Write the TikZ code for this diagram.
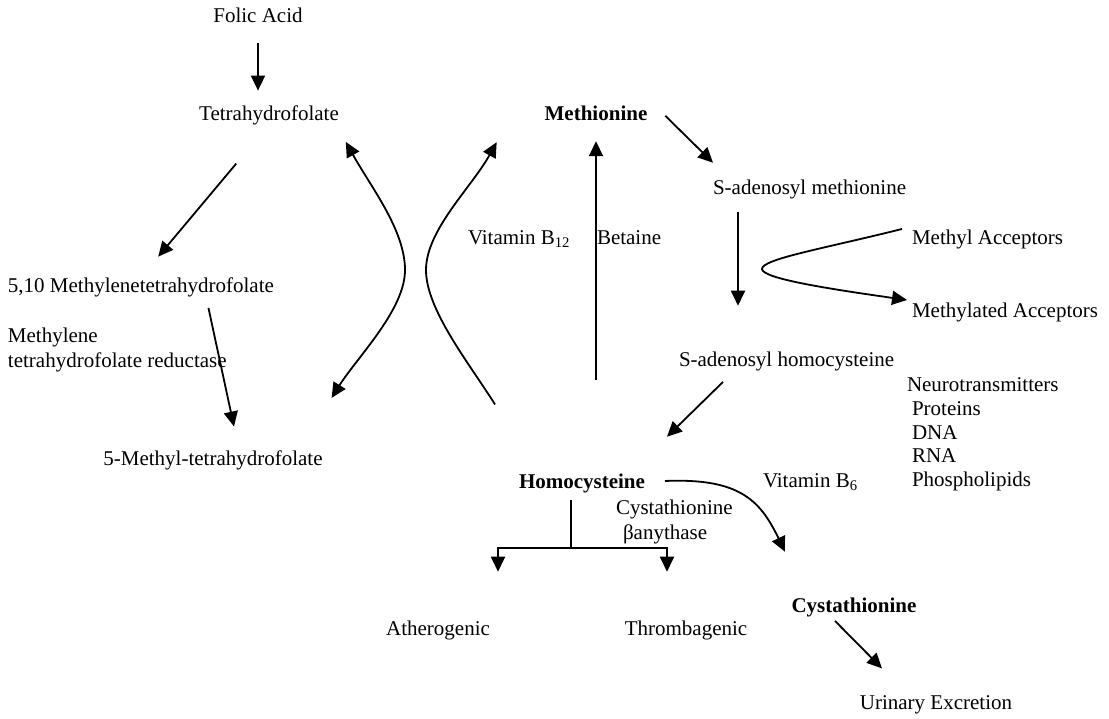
\documentclass[tikz,border=0pt]{standalone}
\usepackage{fontspec}
\setmainfont{Liberation Serif}
\usepackage{tikz}
\usetikzlibrary{arrows.meta, calc}

\begin{document}
\begin{tikzpicture}[
    x=0.5pt, y=-0.5pt,
    font=\fontsize{10.5}{12.5}\selectfont,
    every node/.style={inner sep=0pt, outer sep=0pt},
    >={Triangle[length=7.5pt, width=7pt]},
    link/.style={line width=0.9pt},
    arr/.style={->, line width=0.9pt},
]
    \useasboundingbox (0, 0) rectangle (1109, 718);

    % folate side
    \node[anchor=base] (folic) at (258, 22) {Folic Acid};
    \node[anchor=base] (thf) at (269, 120) {Tetrahydrofolate};
    \node[anchor=base west] (mthf510) at (8, 292) {5,10 Methylenetetrahydrofolate};
    \node[anchor=north west, align=left] (mthfr) at (8, 327.7) {Methylene\\tetrahydrofolate reductase};
    \node[anchor=base] (mthf5) at (213, 465) {5-Methyl-tetrahydrofolate};

    % methionine cycle
    \node[anchor=base] (met) at (596, 120) {\textbf{Methionine}};
    \node[anchor=base west] (sam) at (713, 194) {S-adenosyl methionine};
    \node[anchor=base west] (sah) at (679, 366) {S-adenosyl homocysteine};
    \node[anchor=base west] (macc) at (912, 244) {Methyl Acceptors};
    \node[anchor=base west] (maccd) at (912, 317) {Methylated Acceptors};
    \node[anchor=north west, align=left, font=\fontsize{10.5}{11.85}\selectfont] (targets) at (912, 377.7)
        {\hspace*{-2.5pt}Neurotransmitters\\Proteins\\DNA\\RNA\\Phospholipids};
    \node[anchor=base west] (vitb12) at (468, 244) {Vitamin B\textsubscript{12}};
    \node[anchor=base west] (betaine) at (597, 244) {Betaine};

    % homocysteine and after
    \node[anchor=base] (homo) at (582, 488) {\textbf{Homocysteine}};
    \node[anchor=base west] (vitb6) at (763, 487) {Vitamin B\textsubscript{6}};
    \node[anchor=north west, align=left] (cbs) at (616, 499.7) {Cystathionine\\\hspace*{3.5pt}βanythase};
    \node[anchor=base] (athero) at (438, 635) {Atherogenic};
    \node[anchor=base] (thromb) at (686, 635) {Thrombagenic};
    \node[anchor=base] (cys) at (854, 612) {\textbf{Cystathionine}};
    \node[anchor=base] (urine) at (936, 709) {Urinary Excretion};

    % folate arrows
    \draw[arr, shorten <=10.5pt, shorten >=7.3pt] (folic.south) -- (folic.south |- thf.north);
    \draw[arr, shorten <=25.5pt, shorten >=13.4pt] (thf.south) -- (mthf510.north);
    \draw[arr] ($(mthf510.south)+(67.5, 11.4)$) -- ($(mthf5.north)+(21, -23.7)$);

    % THF <-> 5-methyl-THF
    \coordinate (lbend) at (405, 270);
    \draw[link, <->] ($(thf.east)+(7, 27)$) .. controls +(25, 45) and +(0, -40) .. (lbend)
        .. controls +(0, 40) and +(25, -40) .. ($(mthf5.east)+(9, -62)$);

    % remethylation
    \coordinate (rbend) at (426, 270);
    \draw[arr] ($(homo.north west)+(-24, -69)$) .. controls +(-25, -40) and +(0, 40) .. (rbend)
        .. controls +(0, -40) and +(-25, 45) .. ($(met.south west)+(-48, 22)$);
    \draw[arr, shorten <=46.9pt, shorten >=10.5pt] (met.south |- homo.north) -- (met.south);

    % methionine cycle arrows
    \draw[arr] ($(met.east)+(18, 3)$) -- ($(sam.north west)+(0, -16.7)$);
    \draw[arr] ($(sam.south west)+(25, 13.4)$) -- ($(sah.north west)+(59, -45.7)$);
    \draw[arr] ($(sah.south west)+(44, 11.4)$) -- ($(homo.north east)+(22, -36.7)$);

    % methyl transfer
    \coordinate (mturn) at (762, 269);
    \draw[arr] ($(macc.west)+(-10, -10)$) .. controls +(-80, 20) and +(0, -10) .. (mturn)
        .. controls +(0, 10) and +(-70, -10) .. ($(maccd.west)+(-5, -12)$);

    % transsulfuration
    \draw[arr] ($(homo.east)+(20, -2)$) .. controls +(74, -3) and +(-25, -52) .. ($(cys.north west)+(-6.6, -45.7)$);
    \draw[arr] ($(cys.south)+(-19, 4.4)$) -- ($(urine.north)+(-54, -26.7)$);

    % branch to vascular effects
    \coordinate (hfork) at ($(homo.south)+(-11, 55.4)$);
    \draw[link] ($(homo.south)+(-11, 7.4)$) -- (hfork);
    \draw[arr] (hfork) -| ($(athero.north)+(60, -48.7)$);
    \draw[arr] (hfork) -| ($(thromb.north)+(-19, -48.7)$);
\end{tikzpicture}
\end{document}
